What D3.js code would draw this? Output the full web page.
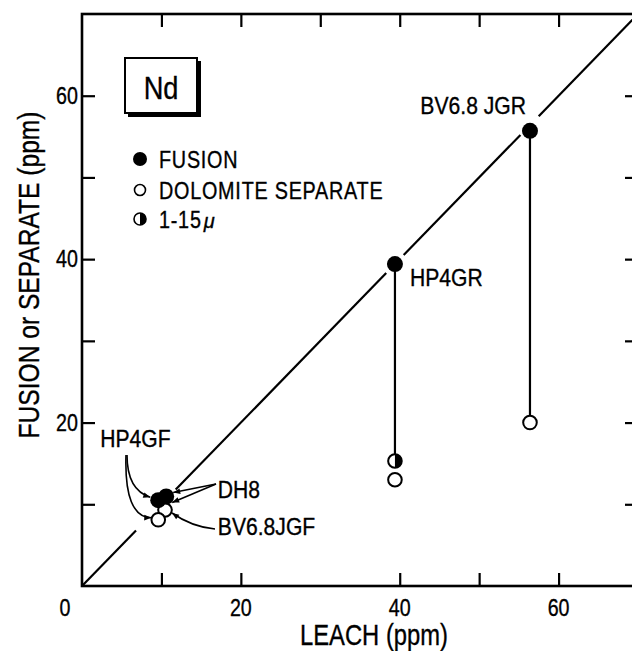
<!DOCTYPE html>
<html><head><meta charset="utf-8">
<script src="https://cdn.jsdelivr.net/npm/d3@7"></script>
<style>
html,body{margin:0;padding:0;background:#fff;}
text{font-family:"Liberation Sans",Arial,sans-serif;fill:#000;stroke:#000;stroke-width:0.35;}
</style></head>
<body>
<svg id="chart" width="632" height="651"></svg>
<script>
// ---- data (ppm) ----
const fusion = [
  {id:"BV6.8 JGR", x:56.4, y:55.7},
  {id:"HP4GR",     x:39.4, y:39.4},
  {id:"HP4GF",     x:9.6,  y:10.5},
  {id:"DH8",       x:10.6, y:10.95}
];
const separate = [
  {id:"BV6.8 JGR", x:56.4, y:20.0},
  {id:"HP4GR",     x:39.4, y:13.0},
  {id:"BV6.8JGF",  x:10.45,y:9.3},
  {id:"HP4GF",     x:9.6,  y:8.1}
];
const fine = [
  {id:"HP4GR", x:39.4, y:15.3}
];
const tieLines = [
  {x:56.4, y1:55.7, y2:20.0},
  {x:39.4, y1:39.4, y2:15.3}
];
const diagonalSegments = [[0,6.8],[11.8,38.3],[40.5,55.2],[57.5,70]];
const xTickLabels = [20,40,60];
const yTickLabels = [20,40,60];
const minorTicks = [10,20,30,40,50,60];
const legendItems = ["FUSION","DOLOMITE SEPARATE","1-15"];
const sampleLabels = [
  {text:"BV6.8 JGR", x:42.6, y:57.8},
  {text:"HP4GR",     x:41.3, y:36.7},
  {text:"HP4GF",     x:2.3,  y:17.0},
  {text:"DH8",       x:17.1, y:10.8},
  {text:"BV6.8JGF",  x:17.1, y:6.25}
];

// ---- layout ----
const svg = d3.select("#chart");
const x = d3.scaleLinear().domain([0,70]).range([82,638]);
const y = d3.scaleLinear().domain([0,70]).range([586,14]);
const AX = 2.6;

svg.append("defs").append("marker")
  .attr("id","arr").attr("viewBox","0 0 10 10").attr("refX",10).attr("refY",5)
  .attr("markerWidth",9).attr("markerHeight",7).attr("markerUnits","userSpaceOnUse")
  .attr("orient","auto")
  .append("path").attr("d","M0,1 L10,5 L0,9 Z").attr("fill","#000");

// frame
svg.append("rect").attr("x",x(0)).attr("y",y(70)).attr("width",x(70)-x(0)).attr("height",y(0)-y(70))
  .attr("fill","none").attr("stroke","#000").attr("stroke-width",AX);

// inward ticks using axes
const tl = 13;
svg.append("g").attr("transform",`translate(0,${y(0)})`)
  .call(d3.axisBottom(x).tickValues([10,20,40,50,60]).tickSize(-tl).tickFormat(""))
  .call(g=>{g.select(".domain").remove(); g.selectAll("line").attr("stroke-width",2.2);});
svg.append("g").attr("transform",`translate(0,${y(70)})`)
  .call(d3.axisTop(x).tickValues(minorTicks).tickSize(-tl).tickFormat(""))
  .call(g=>{g.select(".domain").remove(); g.selectAll("line").attr("stroke-width",2.2);});
svg.append("g").attr("transform",`translate(${x(0)},0)`)
  .call(d3.axisLeft(y).tickValues(minorTicks).tickSize(-tl).tickFormat(""))
  .call(g=>{g.select(".domain").remove(); g.selectAll("line").attr("stroke-width",2.2);});
svg.append("g").attr("transform",`translate(${x(70)},0)`)
  .call(d3.axisRight(y).tickValues(minorTicks).tickSize(-tl).tickFormat(""))
  .call(g=>{g.select(".domain").remove(); g.selectAll("line").attr("stroke-width",2.2);});

const condense = [];
// tick labels
svg.append("g").selectAll("text").data(xTickLabels).join("text")
  .attr("x",d=>x(d)).attr("y",616).attr("text-anchor","middle")
  .attr("font-size",24).text(d=>d).each(function(){condense.push([this,0.82]);});
svg.append("text").attr("x",x(0)-17).attr("y",616).attr("text-anchor","middle").attr("font-size",24).text("0")
  .each(function(){condense.push([this,0.82]);});
svg.append("g").selectAll("text").data(yTickLabels).join("text")
  .attr("x",x(0)-4).attr("y",d=>y(d)+8).attr("text-anchor","end")
  .attr("font-size",24).text(d=>d).each(function(){condense.push([this,0.82]);});

// axis titles
svg.append("text").attr("x",374).attr("y",645).attr("text-anchor","middle")
  .attr("font-size",29).text("LEACH (ppm)").each(function(){condense.push([this,0.82]);});
svg.append("text").attr("transform",`translate(39,275) rotate(-90)`).attr("text-anchor","middle")
  .attr("font-size",30).text("FUSION or SEPARATE (ppm)").each(function(){condense.push([this,0.82]);});

// diagonal 1:1 line
svg.append("g").selectAll("line").data(diagonalSegments).join("line")
  .attr("x1",d=>x(d[0])).attr("y1",d=>y(d[0]))
  .attr("x2",d=>x(Math.min(d[1],69.3))).attr("y2",d=>y(Math.min(d[1],69.3)))
  .attr("stroke","#000").attr("stroke-width",2.2);

// tie lines
svg.append("g").selectAll("line").data(tieLines).join("line")
  .attr("x1",d=>x(d.x)).attr("x2",d=>x(d.x))
  .attr("y1",d=>y(d.y1)).attr("y2",d=>y(d.y2))
  .attr("stroke","#000").attr("stroke-width",2.2);

// separates (open)
svg.append("g").selectAll("circle").data(separate).join("circle")
  .attr("cx",d=>x(d.x)).attr("cy",d=>y(d.y)).attr("r",6.8)
  .attr("fill","#fff").attr("stroke","#000").attr("stroke-width",2);

// 1-15 micron (half filled)
const half = svg.append("g").selectAll("g").data(fine).join("g")
  .attr("transform",d=>`translate(${x(d.x)},${y(d.y)})`);
half.append("circle").attr("r",6.8).attr("fill","#fff").attr("stroke","#000").attr("stroke-width",2);
half.append("path").attr("d","M0,-6.8 A6.8,6.8 0 0 1 0,6.8 Z").attr("fill","#000");

// fusion (filled)
svg.append("g").selectAll("circle").data(fusion).join("circle")
  .attr("cx",d=>x(d.x)).attr("cy",d=>y(d.y)).attr("r",8).attr("fill","#000");

// sample labels
svg.append("g").selectAll("text").data(sampleLabels).join("text")
  .attr("x",d=>x(d.x)).attr("y",d=>y(d.y)).attr("font-size",24).text(d=>d.text)
  .each(function(){condense.push([this,0.88]);});

// leader arrows for cluster
const hpF = fusion[2], dhF = fusion[3], bvS = separate[2], hpS = separate[3];
const arrows = svg.append("g").attr("fill","none").attr("stroke","#000").attr("stroke-width",1.6);
arrows.append("path").attr("marker-end","url(#arr)")
  .attr("d",`M127,455 Q127,490 ${x(hpF.x)-8},${y(hpF.y)-3}`);
arrows.append("path").attr("marker-end","url(#arr)")
  .attr("d",`M126,455 Q124,517 ${x(hpS.x)-7},${y(hpS.y)-2}`);
arrows.append("path").attr("marker-end","url(#arr)")
  .attr("d",`M216,484 L${x(dhF.x)+7},${y(dhF.y)-4}`);
arrows.append("path").attr("marker-end","url(#arr)")
  .attr("d",`M216,484 L${x(dhF.x)+6},${y(dhF.y)+6}`);
arrows.append("path").attr("marker-end","url(#arr)")
  .attr("d",`M215,529 Q192,527 ${x(bvS.x)+7},${y(bvS.y)+3}`);

// Nd box
svg.append("rect").attr("x",128).attr("y",61).attr("width",73).attr("height",56).attr("fill","#000");
svg.append("rect").attr("x",125).attr("y",58).attr("width",72).attr("height",55)
  .attr("fill","#fff").attr("stroke","#000").attr("stroke-width",2);
svg.append("text").attr("x",161).attr("y",99).attr("text-anchor","middle").attr("font-size",32).text("Nd")
  .each(function(){condense.push([this,0.85]);});

// legend
const lg = svg.append("g");
const ly = [159,190,219];
lg.append("circle").attr("cx",140).attr("cy",ly[0]).attr("r",7).attr("fill","#000");
lg.append("circle").attr("cx",140).attr("cy",ly[1]).attr("r",5.5).attr("fill","#fff").attr("stroke","#000").attr("stroke-width",1.6);
lg.append("circle").attr("cx",140).attr("cy",ly[2]).attr("r",6).attr("fill","#fff").attr("stroke","#000").attr("stroke-width",1.6);
lg.append("path").attr("d",`M140,${ly[2]-6} A6,6 0 0 1 140,${ly[2]+6} Z`).attr("fill","#000");
lg.selectAll("text.l").data(legendItems).join("text").attr("class","l")
  .attr("x",159).attr("y",(d,i)=>ly[i]+9).attr("font-size",23).attr("letter-spacing",0.9)
  .text(d=>d).each(function(){condense.push([this,0.86]);});
// micro sign after "1-15"
const mu = lg.append("text").attr("y",ly[2]+9).attr("font-family","DejaVu Serif")
  .attr("font-style","italic").attr("font-size",20).text("μ");

// condense texts horizontally via transform (narrow typeface look)
condense.forEach(([el,f])=>{
  const s = d3.select(el);
  const tx = +(s.attr("x")||0), ty = +(s.attr("y")||0);
  const base = s.attr("transform") || "";
  s.attr("x",0).attr("y",0)
   .attr("transform",`${base} translate(${tx},${ty}) scale(${f},1)`.trim());
});
const lastLeg = lg.selectAll("text.l").nodes()[2];
const lb = lastLeg.getBoundingClientRect();
mu.attr("x", lb.right + 2);
</script>
</body></html>
